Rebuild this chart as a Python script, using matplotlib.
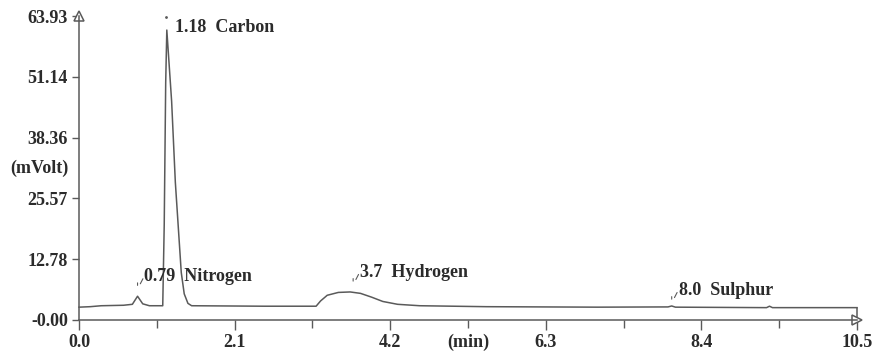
import matplotlib
matplotlib.use("Agg")
import matplotlib.pyplot as plt

# Chromatogram trace (time in min, signal in mV)
time_min = [0.0, 0.15, 0.3, 0.6, 0.72, 0.79, 0.86, 0.95, 1.13, 1.15, 1.17, 1.185,
            1.25, 1.30, 1.38, 1.42, 1.47, 1.52, 2.5, 3.2, 3.26, 3.35, 3.5, 3.66,
            3.8, 3.95, 4.1, 4.3, 4.6, 5.5, 7.0, 7.95, 8.0, 8.05, 9.28, 9.32, 9.36, 10.5]
signal_mv = [2.7, 2.8, 3.0, 3.1, 3.3, 5.0, 3.4, 3.0, 3.0, 20.0, 50.0, 61.0,
             46.0, 29.0, 10.0, 5.5, 3.5, 3.0, 2.9, 2.9, 4.0, 5.2, 5.8, 5.9,
             5.6, 4.8, 3.9, 3.3, 3.0, 2.8, 2.7, 2.75, 2.95, 2.7, 2.6, 2.9, 2.6, 2.6]

peak_times = [0.79, 1.18, 3.7, 8.0]
peak_labels = ["0.79", "1.18", "3.7", "8.0"]
peak_names = ["Nitrogen", "Carbon", "Hydrogen", "Sulphur"]
peak_label_mv = [8.9, 61.5, 9.8, 6.0]

y_ticks = [0.0, 12.78, 25.57, 38.36, 51.14, 63.93]
y_tick_labels = ["-0.00", "12.78", "25.57", "38.36", "51.14", "63.93"]
x_ticks = [0.0, 2.1, 4.2, 6.3, 8.4, 10.5]
x_tick_labels = ["0.0", "2.1", "4.2", "6.3", "8.4", "10.5"]
x_minor = [1.05, 3.15, 5.25, 7.35, 9.45]
x_minor_labels = ["", "", "(min)", "", ""]

ink = "#2b2b2b"
line_c = "#5a5a5a"
fs = 13
plt.rcParams['font.family'] = ['Liberation Serif', 'DejaVu Serif']

fig = plt.figure(figsize=(8.78, 3.55), dpi=100)
ax = fig.add_axes([0.09, 0.0986, 0.886, 0.856])
ax.set_xlim(0, 10.5)
ax.set_ylim(0, 63.93)

ax.plot(time_min, signal_mv, color=line_c, lw=1.1, clip_on=False)
ax.plot([time_min[-1], time_min[-1]], [signal_mv[-1], 0], color=line_c, lw=1.1, clip_on=False)

for s in ["top", "right"]:
    ax.spines[s].set_visible(False)
for s in ["left", "bottom"]:
    ax.spines[s].set_color(line_c)
    ax.spines[s].set_linewidth(1.1)

ax.set_yticks(y_ticks)
ax.set_yticklabels(y_tick_labels)
ax.set_xticks(x_ticks)
ax.set_xticklabels(x_tick_labels)
ax.set_xticks(x_minor, minor=True)
ax.set_xticklabels(x_minor_labels, minor=True)
ax.tick_params(axis="y", length=5, width=1, color=line_c, pad=3, labelsize=fs, labelcolor=ink)
ax.tick_params(axis="x", which="major", length=7, width=1, color=line_c, pad=3, labelsize=fs, labelcolor=ink)
ax.tick_params(axis="x", which="minor", length=6, width=1, color=line_c, pad=4, labelsize=fs, labelcolor=ink)
for lab in ax.get_xticklabels() + ax.get_yticklabels() + ax.get_xticklabels(minor=True):
    lab.set_fontweight("bold")

# arrows at axis ends
ax.plot([0], [63.93], marker="^", ms=7, mfc="white", mec=line_c, mew=1.1, clip_on=False)
ax.plot([10.5], [0], marker=">", ms=7, mfc="white", mec=line_c, mew=1.1, clip_on=False)

ax.text(-0.0505, 0.5, "(mVolt)", transform=ax.transAxes, ha="center", va="center",
        fontsize=fs, fontweight="bold", color=ink)

# peak annotations
for t, lbl, name, ymv in zip(peak_times, peak_labels, peak_names, peak_label_mv):
    if name == "Carbon":
        ax.plot([t - 0.01], [ymv + 2.3], marker=".", ms=2, color=line_c, clip_on=False)
        ax.annotate(lbl + "  " + name, xy=(t, ymv), xytext=(6, 0), textcoords="offset points",
                    ha="left", va="center", fontsize=fs, fontweight="bold", color=ink)
    else:
        ax.annotate("", xy=(t, ymv - 2.2), xytext=(t, ymv - 0.5),
                    arrowprops=dict(arrowstyle="-", color=line_c, lw=0.8))
        ax.annotate("", xy=(t + 0.02, ymv - 1.8), xytext=(t + 0.09, ymv + 0.3),
                    arrowprops=dict(arrowstyle="-", color=line_c, lw=0.8))
        ax.annotate(lbl + "  " + name, xy=(t, ymv), xytext=(5, 1), textcoords="offset points",
                    ha="left", va="center", fontsize=fs, fontweight="bold", color=ink)

fig.savefig("out.png", dpi=100, facecolor="white")
